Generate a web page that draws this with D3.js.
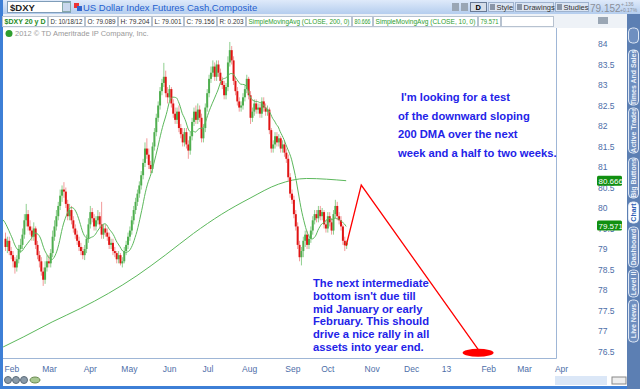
<!DOCTYPE html>
<meta charset="utf-8">
<style>
body { margin: 0; background: #fff; }
svg { display: block; font-family: "Liberation Sans", Arial, sans-serif; }
</style>
<body>
<script src="https://d3js.org/d3.v7.min.js"></script>
<script>
// daily bars Feb 1 2012 .. Oct 18 2012, one entry per trading day (index 0..181)
var opens = [79.25,79.05,79.20,78.95,78.85,78.70,78.55,78.75,79.00,79.10,
  79.35,79.70,79.85,79.55,79.45,79.30,79.50,79.10,78.85,78.70,
  78.45,78.25,78.55,78.70,78.65,78.90,79.30,79.55,79.80,80.05,
  80.30,80.45,80.40,80.10,79.80,79.95,79.70,79.50,79.35,79.20,
  79.05,78.95,78.85,79.00,79.25,79.60,79.90,79.75,79.55,79.70,
  79.80,79.60,79.35,79.50,79.40,79.30,79.10,79.15,78.95,78.90,
  78.75,78.85,78.65,78.70,78.95,79.10,79.30,79.45,79.70,79.95,
  80.15,80.35,80.55,80.80,81.10,81.45,81.30,81.05,80.95,81.50,
  81.85,82.20,82.50,82.85,83.05,83.20,82.80,82.70,82.90,82.55,
  82.30,82.15,82.35,81.95,81.80,81.60,81.85,81.55,81.40,81.75,
  82.10,82.35,82.15,82.40,82.20,81.70,81.95,82.45,82.80,83.15,
  83.30,83.45,83.20,83.50,83.30,83.10,83.00,82.75,82.95,83.55,
  83.85,83.60,83.10,82.85,82.60,82.45,82.50,82.70,82.90,83.15,
  82.75,82.20,82.35,82.55,82.40,82.45,82.30,82.60,82.45,82.35,
  82.40,81.90,81.45,81.55,81.75,81.60,81.70,81.45,81.55,81.35,
  81.20,80.75,80.35,80.20,79.85,79.55,79.10,78.80,78.95,79.20,
  79.35,79.10,79.25,79.45,79.70,79.85,79.75,79.95,79.80,79.90,
  79.60,79.50,79.80,79.65,79.45,79.85,80.05,79.80,79.70,79.55,
  79.20,79.089];
var highs = [79.40,79.30,79.30,79.05,78.95,78.80,78.85,79.10,79.25,79.50,
  79.85,80.10,79.95,79.70,79.55,79.65,79.55,79.20,78.95,78.80,
  78.55,78.70,78.85,78.85,79.00,79.45,79.70,79.95,80.15,80.45,
  80.55,80.63,80.50,80.20,80.10,80.05,79.80,79.60,79.45,79.30,
  79.15,79.05,79.10,79.35,79.75,80.05,80.00,79.85,79.80,79.95,
  79.90,80.15,79.60,79.60,79.50,79.40,79.25,79.25,79.05,78.95,
  78.95,78.90,78.80,79.05,79.20,79.40,79.55,79.80,80.05,80.25,
  80.45,80.65,80.90,81.20,81.60,81.70,81.45,81.15,81.60,81.95,
  82.30,82.60,82.95,83.15,83.54,83.35,82.95,83.00,82.95,82.65,
  82.45,82.45,82.50,82.05,81.95,81.95,81.95,81.65,81.85,82.20,
  82.45,82.50,82.55,82.50,82.30,82.05,82.55,82.90,83.25,83.45,
  83.60,83.55,83.60,83.60,83.40,83.20,83.10,83.05,83.70,84.05,
  83.95,83.70,83.20,82.95,82.70,82.60,82.80,83.00,83.25,83.20,
  82.85,82.45,82.65,82.65,82.55,82.55,82.70,82.70,82.55,82.50,
  82.45,81.95,81.65,81.85,81.85,81.80,81.75,81.65,81.65,81.45,
  81.30,80.85,80.45,80.30,79.95,79.65,79.20,79.05,79.30,79.45,
  79.45,79.35,79.55,79.80,79.95,79.95,80.05,80.05,80.00,79.95,
  79.70,79.90,79.90,79.75,79.95,80.20,80.15,79.90,79.80,79.60,
  79.30,79.204];
var lows = [78.95,78.90,78.85,78.75,78.55,78.40,78.45,78.65,78.90,79.00,
  79.25,79.55,79.45,79.35,79.20,79.20,79.00,78.75,78.55,78.35,
  78.10,78.15,78.45,78.55,78.55,78.80,79.20,79.45,79.70,79.95,
  80.15,80.25,80.00,79.70,79.70,79.60,79.40,79.25,79.10,78.95,
  78.85,78.75,78.73,78.90,79.15,79.50,79.65,79.45,79.45,79.60,
  79.50,79.25,79.25,79.30,79.20,79.00,79.00,78.85,78.80,78.65,
  78.65,78.60,78.55,78.65,78.85,79.00,79.20,79.35,79.60,79.85,
  80.05,80.25,80.45,80.70,81.00,81.20,80.95,80.85,80.85,81.40,
  81.75,82.10,82.40,82.75,82.95,82.70,82.55,82.60,82.45,82.20,
  82.05,82.05,81.85,81.70,81.50,81.50,81.45,81.20,81.30,81.65,
  82.00,82.05,82.05,82.10,81.60,81.60,81.85,82.35,82.70,83.05,
  83.20,83.10,83.10,83.20,83.00,82.90,82.65,82.65,82.85,83.45,
  83.50,83.00,82.75,82.50,82.35,82.35,82.40,82.60,82.80,82.65,
  82.05,82.10,82.25,82.30,82.30,82.20,82.20,82.35,82.25,82.25,
  81.80,81.35,81.35,81.45,81.50,81.50,81.35,81.35,81.25,81.10,
  80.65,80.25,80.10,79.75,79.45,79.00,78.70,78.60,78.80,79.05,
  79.00,79.00,79.15,79.35,79.60,79.65,79.65,79.70,79.70,79.50,
  79.40,79.40,79.55,79.35,79.35,79.75,79.70,79.60,79.45,79.10,
  78.95,79.001];
var closes = [79.05,79.20,78.95,78.85,78.70,78.55,78.75,79.00,79.10,79.35,
  79.70,79.85,79.55,79.45,79.30,79.50,79.10,78.85,78.70,78.45,
  78.25,78.55,78.70,78.65,78.90,79.30,79.55,79.80,80.05,80.30,
  80.45,80.40,80.10,79.80,79.95,79.70,79.50,79.35,79.20,79.05,
  78.95,78.85,79.00,79.25,79.60,79.90,79.75,79.55,79.70,79.80,
  79.60,79.35,79.50,79.40,79.30,79.10,79.15,78.95,78.90,78.75,
  78.85,78.65,78.70,78.95,79.10,79.30,79.45,79.70,79.95,80.15,
  80.35,80.55,80.80,81.10,81.45,81.30,81.05,80.95,81.50,81.85,
  82.20,82.50,82.85,83.05,83.20,82.80,82.70,82.90,82.55,82.30,
  82.15,82.35,81.95,81.80,81.60,81.85,81.55,81.40,81.75,82.10,
  82.35,82.15,82.40,82.20,81.70,81.95,82.45,82.80,83.15,83.30,
  83.45,83.20,83.50,83.30,83.10,83.00,82.75,82.95,83.55,83.85,
  83.60,83.10,82.85,82.60,82.45,82.50,82.70,82.90,83.15,82.75,
  82.20,82.35,82.55,82.40,82.45,82.30,82.60,82.45,82.35,82.40,
  81.90,81.45,81.55,81.75,81.60,81.70,81.45,81.55,81.35,81.20,
  80.75,80.35,80.20,79.85,79.55,79.10,78.80,78.95,79.20,79.35,
  79.10,79.25,79.45,79.70,79.85,79.75,79.95,79.80,79.90,79.60,
  79.50,79.80,79.65,79.45,79.85,80.05,79.80,79.70,79.55,79.20,
  79.09,79.156];
// late January closes, only used to seed the 10 day average
var janCloses = [80.10,79.95,79.90,79.75,79.80,79.65,79.55,79.40,79.30];

// 200 day average (bar index, value)
var sma200Idx = [-1,10,25,40,55,70,85,100,115,130,145,160,181];
var sma200Val = [76.61,76.86,77.22,77.55,77.92,78.35,78.85,79.38,79.85,80.24,80.58,80.72,80.666];

// month ticks (bar index of first trading day)
var monthLabels = ["Feb","Mar","Apr","May","Jun","Jul","Aug","Sep","Oct","Nov","Dec","13","Feb","Mar","Apr"];
var monthIdx = [0,20,42,62,84,105,126,149,168,191,212,232,253,272,292];
var priceTicks = [76.5,77,77.5,78,78.5,79,79.5,80,80.5,81,81.5,82,82.5,83,83.5,84];

// hand drawn forecast line and target
var drawIdx = [181,189,251];
var drawVal = [79.08,80.56,76.55];
var targetIdx = 251, targetVal = 76.47;

var upperNote = ["I'm looking for a test","of the downward sloping","200 DMA over the next","week and a half to two weeks."];
var lowerNote = ["The next intermediate","bottom isn't due till","mid January or early","February. This should","drive a nice rally in all","assets into year end."];

var headerCells = [["$DXY 20 y D","#1e8c1e",true],["D: 10/18/12","#333"],["O: 79.089","#333"],["H: 79.204","#333"],
  ["L: 79.001","#333"],["C: 79.156","#333"],["R: 0.203","#333"],["SimpleMovingAvg (CLOSE, 200, 0)","#2e9e2e"],
  ["80.666","#2e9e2e"],["SimpleMovingAvg (CLOSE, 10, 0)","#2e9e2e"],["79.571","#2e9e2e"]];
var cellW = [45,36,32,33,31,32,28,105,20,104,22];
var tabs = ["Times And Sales","Active Trader","Big Buttons","Chart","Dashboard","Level II","Live News"];

var W = 640, H = 389;
var svg = d3.select("body").append("svg").attr("width", W).attr("height", H);

var x = d3.scaleLinear().domain([0, 292]).range([5, 555.4]);
var y = d3.scaleLinear().domain([76.5, 84]).range([351.5, 44]);

// window frame
svg.append("rect").attr("width", W).attr("height", H).attr("fill", "#fff");
var grad = svg.append("defs").append("linearGradient").attr("id", "top").attr("x2", 0).attr("y2", 1);
grad.append("stop").attr("offset", 0).attr("stop-color", "#dfeafa");
grad.append("stop").attr("offset", 1).attr("stop-color", "#b4cdee");
svg.append("rect").attr("width", W).attr("height", 14).attr("fill", "url(#top)");
svg.append("rect").attr("x", 0).attr("y", 0).attr("width", 3).attr("height", H).attr("fill", "#3d7fd6");
svg.append("rect").attr("x", 0).attr("y", 386).attr("width", 628).attr("height", 3).attr("fill", "#3d7fd6");

// symbol box
svg.append("rect").attr("x", 7.5).attr("y", 1.5).attr("width", 63).attr("height", 11).attr("fill", "#fff").attr("stroke", "#7f9db9");
svg.append("text").attr("x", 10).attr("y", 10.5).attr("font-size", 9.5).attr("font-weight", "bold").attr("fill", "#222").text("$DXY");
svg.append("rect").attr("x", 62.5).attr("y", 2.5).attr("width", 8).attr("height", 9).attr("fill", "#c9d8ee").attr("stroke", "#8aa");
svg.append("rect").attr("x", 74).attr("y", 3).attr("width", 5).attr("height", 5).attr("fill", "#e33");
svg.append("rect").attr("x", 77).attr("y", 6).attr("width", 5).attr("height", 5).attr("fill", "#36c");
svg.append("text").attr("x", 83).attr("y", 10.5).attr("font-size", 9.5).attr("fill", "#1f5fcf").text("US Dollar Index Futures Cash,Composite");

// right-hand toolbar
[452, 461].forEach(function(ix) {
  svg.append("rect").attr("x", ix).attr("y", 3).attr("width", 7).attr("height", 8).attr("fill", "#9aa6b4");
});
svg.append("rect").attr("x", 470.5).attr("y", 2.5).attr("width", 16).attr("height", 9).attr("fill", "#d5dde8").attr("stroke", "#6a7b95");
svg.append("text").attr("x", 475.5).attr("y", 10).attr("font-size", 7.5).attr("font-weight", "bold").text("D");
var tb = [["Style", 488, 513], ["Drawings", 515, 553], ["Studies", 555, 588]];
tb.forEach(function(b) {
  svg.append("rect").attr("x", b[1] + 0.5).attr("y", 2.5).attr("width", b[2] - b[1]).attr("height", 9)
    .attr("fill", "#dbe5f3").attr("stroke", "#9fb3cf");
  svg.append("rect").attr("x", b[1] + 2).attr("y", 4).attr("width", 5).attr("height", 6).attr("fill", "#8a96a8");
  svg.append("text").attr("x", b[1] + 8.5).attr("y", 10).attr("font-size", 7.5).attr("fill", "#333").text(b[0]);
});
svg.append("text").attr("x", 590).attr("y", 12).attr("font-size", 10).attr("fill", "#8a8f99").text("79.152");
svg.append("text").attr("x", 621).attr("y", 6).attr("font-size", 5).attr("fill", "#8a8f99").text("+.136");
svg.append("text").attr("x", 620).attr("y", 12).attr("font-size", 5).attr("fill", "#8a8f99").text("+0.17%");

// header cells
svg.append("rect").attr("x", 3).attr("y", 14).attr("width", 624).attr("height", 14).attr("fill", "#eef2f7");
var cx = 2;
headerCells.forEach(function(c, i) {
  var w = cellW[i];
  svg.append("rect").attr("x", cx + 0.5).attr("y", 16.5).attr("width", w).attr("height", 10)
    .attr("fill", "#fff").attr("stroke", "#b7c2d0");
  svg.append("text").attr("x", cx + 2.5).attr("y", 24).attr("font-size", 7)
    .attr("textLength", w - 4).attr("lengthAdjust", "spacingAndGlyphs")
    .attr("fill", c[1]).attr("font-weight", c[2] ? "bold" : null).text(c[0]);
  cx += w + 1;
});
svg.append("rect").attr("x", cx + 0.5).attr("y", 16.5).attr("width", 553 - cx).attr("height", 10).attr("fill", "#fff").attr("stroke", "#b7c2d0");
svg.append("rect").attr("x", 598).attr("y", 17).attr("width", 10).attr("height", 7).attr("fill", "#9aa6b4");

// plot frame
svg.append("rect").attr("x", 3).attr("y", 28).attr("width", 553).attr("height", 330).attr("fill", "#fff");
svg.append("line").attr("x1", 556.5).attr("x2", 556.5).attr("y1", 28).attr("y2", 358.5).attr("stroke", "#9fb6d6");
svg.append("line").attr("x1", 3).attr("x2", 556.5).attr("y1", 358.5).attr("y2", 358.5).attr("stroke", "#9fb6d6");
svg.append("circle").attr("cx", 9).attr("cy", 33.5).attr("r", 3.5).attr("fill", "#2e9e2e");
svg.append("text").attr("x", 15).attr("y", 36).attr("font-size", 7.5).attr("fill", "#999").text("2012 \u00a9 TD Ameritrade IP Company, Inc.");

// price axis
svg.append("g").selectAll("text").data(priceTicks).join("text")
  .attr("x", 598).attr("y", function(d) { return y(d) + 3; })
  .attr("font-size", 8.5).attr("fill", "#4d6ea8").text(function(d) { return d; });

// month axis
svg.append("g").selectAll("text").data(monthLabels).join("text")
  .attr("x", function(d, i) { return x(monthIdx[i]) - 0.5; }).attr("y", 372)
  .attr("font-size", 8.5).attr("fill", "#4d6ea8").text(function(d) { return d; });

var plot = svg.append("g");

// 200 day average
var line = d3.line().curve(d3.curveMonotoneX);
plot.append("path")
  .attr("d", line(sma200Idx.map(function(d, i) { return [Math.max(x(d), 3), y(sma200Val[i])]; })))
  .attr("fill", "none").attr("stroke", "#5cb85c").attr("stroke-width", 1);

// candles
var bars = plot.selectAll("g.bar").data(closes).join("g").attr("class", "bar");
bars.append("line")
  .attr("x1", function(d, i) { return x(i) + 0.5; }).attr("x2", function(d, i) { return x(i) + 0.5; })
  .attr("y1", function(d, i) { return y(highs[i]); }).attr("y2", function(d, i) { return y(lows[i]); })
  .attr("stroke", function(d, i) { return d >= opens[i] ? "#8fcf8f" : "#f29a9a"; });
bars.append("rect")
  .attr("x", function(d, i) { return x(i) - 0.5; }).attr("width", 2)
  .attr("y", function(d, i) { return y(Math.max(d, opens[i])); })
  .attr("height", function(d, i) { return Math.max(1, Math.abs(y(d) - y(opens[i]))); })
  .attr("fill", function(d, i) { return d >= opens[i] ? "#4fae4f" : "#e01414"; });

// 10 day average of closes
var all = janCloses.concat(closes);
var sma10 = closes.map(function(d, i) {
  return [x(i), y(d3.mean(all.slice(i, i + 10)))];
});
sma10.unshift([3, y(d3.mean(all.slice(0, 9)))]);
plot.append("path").attr("d", d3.line().curve(d3.curveMonotoneX)(sma10))
  .attr("fill", "none").attr("stroke", "#5cb85c").attr("stroke-width", 1);

// forecast drawing
plot.append("path")
  .attr("d", d3.line()(drawIdx.map(function(d, i) { return [x(d), y(drawVal[i])]; })))
  .attr("fill", "none").attr("stroke", "#ff0000").attr("stroke-width", 1.3);
plot.append("ellipse").attr("cx", x(targetIdx)).attr("cy", y(targetVal)).attr("rx", 15.5).attr("ry", 4)
  .attr("fill", "#ff0000");

// notes
plot.append("g").selectAll("text").data(upperNote).join("text")
  .attr("x", function(d, i) { return i ? 398 : 401; }).attr("y", function(d, i) { return 101 + i * 18.7; })
  .attr("font-size", 11.2).attr("font-weight", "bold").attr("fill", "#2323e8").text(function(d) { return d; });
plot.append("g").selectAll("text").data(lowerNote).join("text")
  .attr("x", 313).attr("y", function(d, i) { return 287 + i * 12.8; })
  .attr("font-size", 11.2).attr("font-weight", "bold").attr("fill", "#2323e8").text(function(d) { return d; });

// value tags on the price axis
[[80.666, "80.666"], [79.571, "79.571"]].forEach(function(t) {
  svg.append("rect").attr("x", 597).attr("y", y(t[0]) - 5).attr("width", 25).attr("height", 10).attr("rx", 1.5).attr("fill", "#119011");
  svg.append("text").attr("x", 598.5).attr("y", y(t[0]) + 3).attr("font-size", 8).attr("fill", "#fff").text(t[1]);
});

// side tab strip
svg.append("rect").attr("x", 627).attr("y", 14).attr("width", 13).attr("height", H - 14).attr("fill", "#5c7fb3");
var tabY = [[50, 105], [108, 153], [158, 198], [202, 223], [227, 267], [270, 297], [300, 342]];
tabs.forEach(function(t, i) {
  var y0 = tabY[i][0], y1 = tabY[i][1];
  svg.append("rect").attr("x", 628.5).attr("y", y0).attr("width", 10).attr("height", y1 - y0).attr("rx", 4)
    .attr("fill", t == "Chart" ? "#fff" : "#6f8fc0").attr("stroke", "#dfe8f5");
  svg.append("text").attr("transform", "translate(636," + ((y0 + y1) / 2) + ") rotate(-90)")
    .attr("text-anchor", "middle").attr("font-size", 7).attr("font-weight", "bold")
    .attr("fill", t == "Chart" ? "#2d5fb5" : "#eef3fb").text(t);
});
svg.append("rect").attr("x", 628.5).attr("y", 28).attr("width", 10).attr("height", 15).attr("rx", 4).attr("fill", "#6f8fc0").attr("stroke", "#dfe8f5");

// bottom toolbar and scrollbar
[8, 16, 24].forEach(function(cxp) {
  svg.append("circle").attr("cx", cxp).attr("cy", 380).attr("r", 3.5).attr("fill", "#8a9aa8").attr("stroke", "#5d6d7a");
});
svg.append("ellipse").attr("cx", 35).attr("cy", 380).attr("rx", 5).attr("ry", 3).attr("fill", "#a8c890").attr("stroke", "#6a8a50");
svg.append("rect").attr("x", 555).attr("y", 376).attr("width", 52).attr("height", 9).attr("fill", "#dbe7f7");
svg.append("rect").attr("x", 612).attr("y", 377).attr("width", 14).attr("height", 7).attr("fill", "#eee").attr("stroke", "#888");
</script>
